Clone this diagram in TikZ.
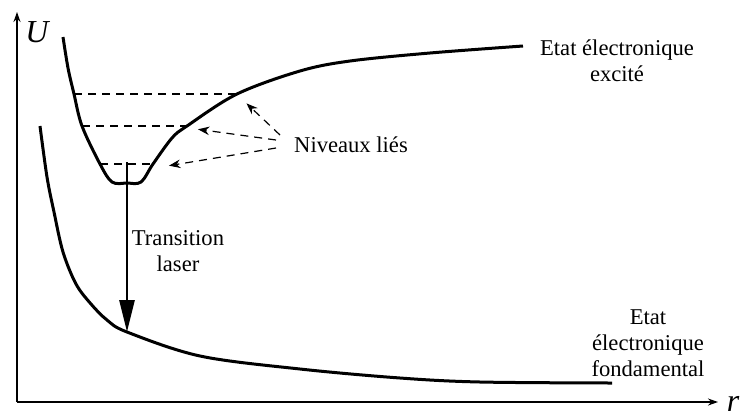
\documentclass[tikz,border=0pt]{standalone}
\usepackage{fontspec}
\setmainfont{Liberation Serif}
\usetikzlibrary{
  arrows.meta,
  positioning,
  calc
}

\begin{document}
\begin{tikzpicture}[
    x=0.5pt, y=-0.5pt,
    >=Stealth,
    courbe/.style={line width=1.5pt, line join=round},
    niveau/.style={dashed, line width=0.6pt, dash pattern=on 4pt off 3pt},
    renvoi/.style={->, dashed, line width=0.6pt, dash pattern=on 4pt off 3pt,
      shorten >=1pt},
    etiquette/.style={font=\rmfamily\fontsize{11.3}{13}\selectfont,
      align=center, inner sep=1pt}
    ]

    \useasboundingbox (0,0) rectangle (747,418);

    % axes
    \coordinate (O) at (17,402);
    \coordinate (Ymax) at (17,12);
    \coordinate (Xmax) at (718,402);
    \draw[-{Stealth[length=5pt,width=3.5pt]},line width=0.75pt] (O)--(Ymax);
    \draw[-{Stealth[length=5pt,width=3.5pt]},line width=0.75pt] (O)--(Xmax);

    \node[font=\rmfamily\fontsize{16}{16}\selectfont\itshape,inner sep=1pt] (U) at (37,32) {U};
    \node[font=\rmfamily\fontsize{16}{16}\selectfont\itshape,inner sep=1pt] (r) at (733,404) {r};

    % etat excite
    \draw[courbe]
    plot[smooth, tension=0.55]
    coordinates{
    (63,37)
    (68,68)
    (74,94)
    (82,126)
    (100,164)
    (112,182)
    (127,183)
    (141,182)
    (153,164)
    (172,138)
    (187,126)
    (237,94)
    (300,71)
    (350,61)
    (430,53)
    (523,46)
    };

    % etat fondamental
    \draw[courbe]
    plot[smooth, tension=0.55]
    coordinates{
    (40,126)
    (47,177)
    (54,212)
    (63,252)
    (76,284)
    (91,304)
    (107,320)
    (127,332)
    (200,356)
    (300,369)
    (400,378)
    (480,382)
    (612,383)
    };

    % niveaux lies
    \coordinate (n1g) at (74,94);
    \coordinate (n1d) at (237,94);
    \coordinate (n2g) at (82,126);
    \coordinate (n2d) at (187,126);
    \coordinate (n3g) at (100,164);
    \coordinate (n3d) at (153,164);
    \draw[niveau] (n1g)--(n1d);
    \draw[niveau] (n2g)--(n2d);
    \draw[niveau] (n3g)--(n3d);

    \node[etiquette] (liés) at (351,145) {Niveaux liés};
    \coordinate (c1) at (245,102);
    \coordinate (c2) at (196,129);
    \coordinate (c3) at (167,166);
    \draw[renvoi] (280,135)--(c1);
    \draw[renvoi] (276,140)--(c2);
    \draw[renvoi] (276,148)--(c3);

    % transition laser
    \coordinate (haut) at (127,162);
    \coordinate (bas) at (127,332);
    \draw[-{Triangle[length=16pt,width=7.5pt]},line width=1.3pt] (haut)--(bas);
    \node[etiquette] (laser) at (178,251) {Transition\\laser};

    % noms des etats
    \node[etiquette] (excité) at (617,61) {Etat électronique\\excité};
    \node[etiquette] (fond) at (648,343) {Etat\\électronique\\fondamental};

\end{tikzpicture}
\end{document}
